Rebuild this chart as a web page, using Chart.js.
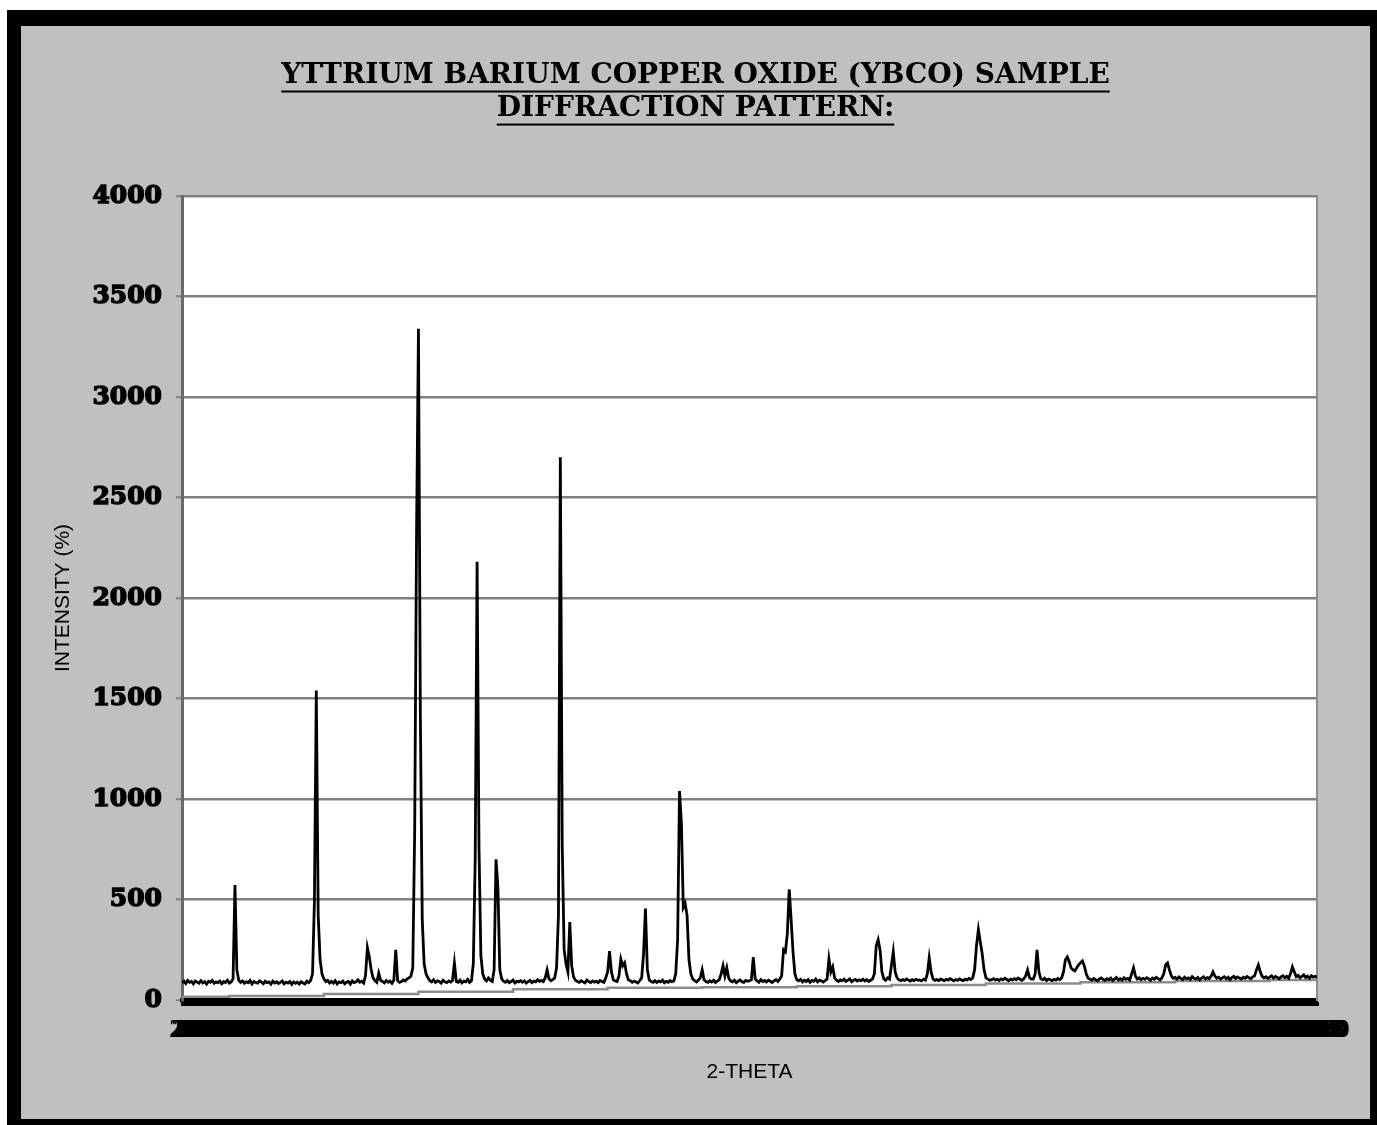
<!DOCTYPE html>
<html>
<head>
<meta charset="utf-8">
<title>YBCO diffraction pattern</title>
<script src="https://cdn.jsdelivr.net/npm/chart.js@4.4.0/dist/chart.umd.min.js"></script>
<style>
    html, body { margin: 0; padding: 0; background: #fff; }
    #frame { position: absolute; left: 7px; top: 10px; width: 1370px; height: 1115px; background: #000; }
    #panel { position: absolute; left: 14px; top: 16px; width: 1349px; height: 1093px; background: #c0c0c0; }
    canvas { display: block; }
</style>
</head>
<body>
<div id="frame"><div id="panel"><canvas id="xrdChart" width="1349" height="1093"></canvas></div></div>
<script>
// 2-theta grid: 20.0 to 80.0 every 0.1 degree
const thetaStart = 20;
const thetaStep = 0.1;

// measured intensity, one row per degree (20.x, 21.x, ...)
const intensity = [
    86, 94, 82, 97, 88, 92, 80, 95, 89, 84,
    96, 85, 91, 79, 93, 88, 97, 83, 90, 86,
    94, 81, 92, 87, 98, 84, 90, 105, 572, 150,
    98, 88, 95, 83, 91, 86, 97, 80, 92, 87,
    84, 95, 89, 81, 93, 86, 90, 79, 94, 85,
    91, 82, 88, 95, 80, 89, 84, 92, 78, 90,
    83, 88, 79, 91, 85, 80, 93, 86, 97, 130,
    490, 1540, 420, 200, 130, 105, 92, 98, 85, 93,
    84, 96, 80, 90, 86, 94, 81, 88, 92, 79,
    95, 86, 90, 100, 88, 93, 84, 120, 260, 215,
    150, 110, 96, 88, 134, 98, 92, 85, 97, 88,
    94, 83, 99, 250, 96, 88, 92, 100, 95, 105,
    110, 118, 160, 840, 2330, 3340, 1420, 400, 180, 130,
    110, 96, 90, 101, 87, 95, 92, 84, 98, 90,
    86, 95, 89, 97, 184, 92, 88, 99, 85, 94,
    90, 102, 88, 96, 180, 700, 2180, 760, 220, 130,
    104, 95, 110, 98, 92, 150, 700, 560, 150, 105,
    94, 88, 97, 86, 92, 99, 85, 93, 90, 96,
    88, 95, 84, 92, 98, 87, 94, 90, 101, 93,
    97, 92, 110, 150, 105, 96, 102, 110, 160, 420,
    2700, 770, 250, 180, 140, 388, 170, 115, 98, 92,
    88, 96, 90, 85, 99, 92, 87, 95, 89, 93,
    86, 97, 92, 88, 110, 140, 243, 140, 100, 95,
    92, 120, 204, 170, 185, 130, 100, 96, 88, 94,
    90, 85, 97, 110, 230, 455, 150, 100, 92, 88,
    96, 87, 94, 90, 99, 86, 93, 88, 97, 91,
    95, 130, 300, 1040, 880, 460, 480, 420, 200, 130,
    105, 96, 90, 99, 110, 150, 100, 92, 88, 96,
    90, 98, 87, 95, 100, 130, 170, 120, 160, 110,
    95, 90, 99, 86, 94, 100, 91, 88, 97, 93,
    96, 100, 213, 105, 95, 88, 101, 92, 97, 90,
    98, 93, 87, 96, 101, 92, 104, 120, 250, 240,
    330, 550, 400, 240, 130, 100, 95, 102, 90, 98,
    92, 101, 88, 97, 93, 104, 90, 99, 95, 89,
    97, 103, 204, 140, 165, 110, 98, 92, 100, 96,
    104, 93, 99, 105, 91, 98, 102, 94, 100, 96,
    103, 95, 101, 92, 98, 104, 130, 270, 300, 250,
    140, 105, 98, 110, 104, 170, 240, 140, 110, 100,
    96, 102, 97, 105, 99, 94, 101, 96, 103, 98,
    100, 95, 104, 99, 130, 210, 140, 105, 98, 102,
    97, 104, 100, 96, 103, 99, 106, 101, 95, 102,
    98, 105, 100, 96, 104, 99, 107, 102, 110, 150,
    270, 350, 290, 230, 150, 110, 104, 98, 101, 106,
    99, 103, 97, 105, 100, 108, 102, 96, 104, 99,
    106, 101, 109, 103, 98, 105, 120, 150, 112, 104,
    104, 130, 249, 140, 105, 100, 108, 97, 104, 101,
    96, 103, 99, 107, 101, 110, 140, 200, 214, 190,
    160, 150, 145, 160, 175, 185, 194, 170, 130, 108,
    103, 99, 107, 101, 96, 105, 110, 102, 98, 106,
    101, 109, 97, 104, 112, 100, 106, 98, 111, 103,
    107, 99, 130, 160, 120, 104, 110, 101, 108, 103,
    111, 105, 98, 109, 103, 113, 106, 100, 110, 130,
    174, 184, 150, 120, 108, 112, 104, 115, 107, 101,
    113, 106, 110, 102, 116, 108, 104, 112, 100, 109,
    115, 105, 111, 107, 118, 140, 120, 108, 113, 104,
    110, 116, 106, 113, 101, 112, 118, 107, 115, 109,
    104, 113, 108, 117, 111, 106, 115, 120, 150, 174,
    140, 118, 110, 116, 107, 114, 120, 109, 117, 112,
    106, 115, 121, 111, 118, 108, 130, 164, 140, 116,
    122, 110, 117, 125, 112, 119, 108, 121, 114, 118,
    112
];

// stepped background line under the pattern
const stepTheta = [20, 22.5, 27.5, 32.5, 37.5, 42.5, 47.5, 52.5, 57.5, 62.5, 67.5, 72.5, 77.5, 80];
const stepLevel = [16, 20, 30, 41, 53, 61, 64, 68, 75, 82, 88, 94, 100, 100];

const titleLines = ['YTTRIUM BARIUM COPPER OXIDE (YBCO) SAMPLE', 'DIFFRACTION PATTERN:'];
const xTitle = '2-THETA';
const yTitle = 'INTENSITY (%)';
const yMin = 0, yMax = 4000, yStep = 500;

const patternPoints = intensity.map((v, i) => ({ x: +(thetaStart + i * thetaStep).toFixed(1), y: v }));
const stepPoints = stepTheta.map((t, i) => ({ x: t, y: stepLevel[i] }));

// white plotting area on the grey panel
const plotBackground = {
    id: 'plotBackground',
    beforeDraw(chart) {
        const { ctx, chartArea } = chart;
        ctx.save();
        ctx.fillStyle = '#ffffff';
        ctx.fillRect(chartArea.left, chartArea.top, chartArea.width, chartArea.height);
        ctx.restore();
    }
};

// underline every title line, like the original
const titleUnderline = {
    id: 'titleUnderline',
    afterDraw(chart) {
        const tb = chart.titleBlock;
        if (!tb) return;
        const opts = tb.options;
        const font = Chart.helpers.toFont(opts.font);
        const pad = Chart.helpers.toPadding(opts.padding);
        const ctx = chart.ctx;
        ctx.save();
        ctx.font = font.string;
        ctx.fillStyle = '#000';
        const cx = (tb.left + tb.right) / 2;
        titleLines.forEach((line, i) => {
            const w = ctx.measureText(line).width;
            const cy = tb.top + pad.top + font.lineHeight * (i + 0.5);
            ctx.fillRect(cx - w / 2, cy + 15, w, 2);
        });
        ctx.restore();
    }
};

const ctx = document.getElementById('xrdChart').getContext('2d');
const chart = new Chart(ctx, {
    type: 'line',
    data: {
        datasets: [
            {
                label: 'YBCO',
                data: patternPoints,
                borderColor: '#000000',
                borderWidth: 2.8,
                pointRadius: 0,
                tension: 0
            },
            {
                label: 'Background',
                data: stepPoints,
                borderColor: '#8c8c8c',
                borderWidth: 2.5,
                pointRadius: 0,
                stepped: true
            }
        ]
    },
    options: {
        responsive: false,
        animation: false,
        layout: { padding: { left: 0, right: 0, top: 0, bottom: 10 } },
        plugins: {
            legend: { display: false },
            tooltip: { enabled: false },
            title: {
                display: true,
                text: titleLines,
                color: '#000',
                font: { family: 'DejaVu Serif', size: 28, weight: 'bold', lineHeight: 1.18 },
                padding: { top: 33, bottom: 71 }
            }
        },
        scales: {
            x: {
                type: 'linear',
                min: 20,
                max: 80,
                afterFit: scale => { scale.height = 109; },
                ticks: {
                    stepSize: thetaStep,
                    autoSkip: false,
                    maxRotation: 0,
                    minRotation: 0,
                    color: '#000',
                    font: { family: 'Liberation Serif', size: 26, weight: 'bold' },
                    padding: 9,
                    labelOffset: 10,
                    callback: value => value.toFixed(1)
                },
                grid: { drawOnChartArea: false, drawTicks: true, tickLength: 6, tickWidth: 3, tickColor: '#000' },
                border: { color: '#000', width: 4 },
                title: {
                    display: true,
                    text: xTitle,
                    color: '#000',
                    font: { family: 'Liberation Sans', size: 21 },
                    padding: { top: 0, bottom: 24 }
                }
            },
            y: {
                min: yMin,
                max: yMax,
                afterFit: scale => { scale.width = 161; },
                ticks: {
                    stepSize: yStep,
                    color: '#000',
                    font: { family: 'DejaVu Serif', size: 25, weight: 'bold' },
                    padding: 14,
                    textStrokeColor: '#000',
                    textStrokeWidth: 1.5,
                    callback: value => String(value)
                },
                grid: { color: '#808080', lineWidth: 2.5, tickLength: 6, tickColor: '#808080', tickWidth: 2 },
                border: { color: '#686868', width: 3 },
                title: {
                    display: true,
                    text: yTitle,
                    color: '#000',
                    font: { family: 'Liberation Sans', size: 21 },
                    padding: { top: 30, bottom: 0 }
                }
            },
            yRight: {
                position: 'right',
                display: true,
                afterFit: scale => { scale.width = 53; },
                ticks: { display: false },
                grid: { drawOnChartArea: false, drawTicks: false },
                border: { color: '#8c8c8c', width: 2 }
            }
        }
    },
    plugins: [plotBackground, titleUnderline]
});
</script>
</body>
</html>
